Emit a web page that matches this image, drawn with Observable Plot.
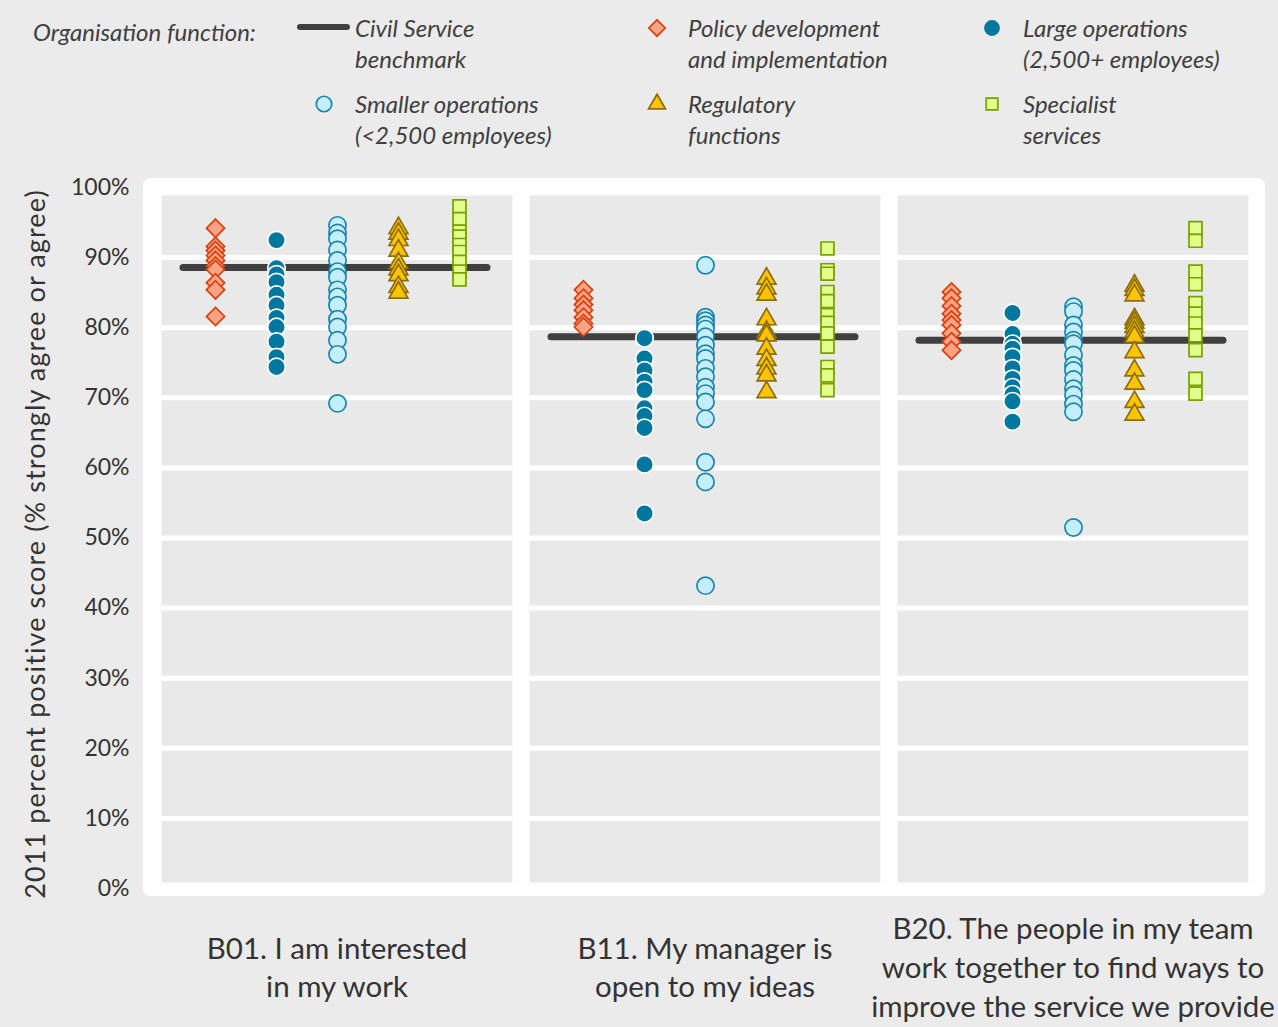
<!DOCTYPE html>
<html><head><meta charset="utf-8">
<script src="https://cdn.jsdelivr.net/npm/d3@7"></script>
<script src="https://cdn.jsdelivr.net/npm/@observablehq/plot@0.6"></script>
<style>
body{margin:0;background:#ebebeb;width:1278px;height:1027px;overflow:hidden;position:relative;font-family:Lato,sans-serif;}
#box{position:absolute;left:143px;top:178px;width:1122px;height:718px;background:#fff;border-radius:7px;}
#chart{position:absolute;left:0;top:0;}
#legend{position:absolute;left:0;top:0;width:1278px;height:160px;font-style:italic;font-size:24px;color:#404040;}
.lt{position:absolute;line-height:31px;white-space:pre;}
.ls{position:absolute;overflow:visible;}
</style></head><body>
<div id="box"></div><div id="chart"></div><div id="legend"></div>
<script>
// ---- data ----
const questions = [
  "B01. I am interested\nin my work",
  "B11. My manager is\nopen to my ideas",
  "B20. The people in my team\nwork together to find ways to\nimprove the service we provide"
];
const groups = [
  "Policy development\nand implementation",
  "Large operations\n(2,500+ employees)",
  "Smaller operations\n(<2,500 employees)",
  "Regulatory\nfunctions",
  "Specialist\nservices"
];
const benchmarkLabel = "Civil Service\nbenchmark";
const legendTitle = "Organisation function:";
const yLabel = "2011 percent positive score (% strongly agree or agree)";
const yTicks = [0, 10, 20, 30, 40, 50, 60, 70, 80, 90, 100];
const benchmark = [88.6, 78.7, 78.2];

const policy = [
  [94.2, 91.6, 91.0, 90.3, 89.6, 88.8, 88.3, 86.4, 85.4, 81.6],
  [85.4, 84.2, 83.3, 82.5, 81.5, 80.6, 80.1],
  [85.1, 84.2, 83.1, 82.0, 81.1, 80.4, 79.2, 78.0, 76.8]
];
const largeOps = [
  [92.5, 88.5, 87.6, 86.5, 84.7, 83.2, 81.4, 80.1, 78.0, 75.8, 74.4],
  [78.5, 75.6, 73.9, 72.3, 71.1, 68.5, 67.4, 65.7, 60.5, 53.5],
  [82.1, 79.1, 77.7, 77.0, 75.8, 74.2, 72.7, 71.5, 70.5, 69.5, 66.6]
];
const smallerOps = [
  [94.6, 93.5, 92.7, 91.1, 89.6, 88.0, 87.2, 85.4, 84.4, 83.2, 81.2, 80.1, 78.2, 76.2, 69.2],
  [88.9, 81.5, 81.0, 80.4, 79.8, 78.7, 77.5, 76.3, 75.6, 74.2, 73.0, 71.5, 70.6, 69.4, 67.0, 60.8, 58.0, 43.2],
  [83.0, 82.3, 80.4, 79.4, 78.2, 77.7, 76.1, 74.6, 73.9, 72.6, 71.3, 70.4, 69.1, 68.0, 51.5]
];
const regulatory = [
  [94.2, 93.4, 92.5, 91.0, 89.2, 88.3, 87.5, 85.8, 85.0],
  [87.0, 85.6, 84.7, 81.2, 79.4, 78.9, 77.0, 75.4, 74.2, 73.2, 70.8],
  [86.0, 85.4, 84.6, 81.2, 80.7, 80.1, 79.4, 78.7, 76.5, 73.9, 72.0, 69.4, 67.6]
];
const specialist = [
  [97.3, 95.5, 93.7, 93.0, 91.8, 90.8, 89.4, 88.0, 86.9],
  [91.3, 88.2, 87.7, 85.1, 83.8, 81.8, 80.7, 79.2, 77.3, 74.4, 73.2, 71.1],
  [94.2, 92.4, 88.0, 86.2, 83.5, 82.0, 80.6, 78.9, 76.8, 72.7, 70.6]
];
const seriesValues = [policy, largeOps, smallerOps, regulatory, specialist];

// ---- styles ----
const styles = [
  {symbol: "diamond2", r: 8.2, fill: "#fca385", stroke: "#d9400f", sw: 1.7},
  {symbol: "circle", r: 8.8, fill: "#00779e", stroke: "#ffffff", sw: 1.7},
  {symbol: "circle", r: 8.6, fill: "#c4eefb", stroke: "#1c84a8", sw: 1.7},
  {symbol: "triangle", r: 7.0, fill: "#ffc400", stroke: "#8c6e00", sw: 1.7},
  {symbol: "square", r: 7.3, fill: "#e2ff8c", stroke: "#78a000", sw: 1.7}
];

const rows = [];
seriesValues.forEach((byQ, gi) => byQ.forEach((vals, qi) => vals.forEach(v => rows.push({q: questions[qi], g: groups[gi], v}))));
const bench = benchmark.map((v, i) => ({q: questions[i], v}));

const chart = Plot.plot({
  width: 1278, height: 1027,
  marginTop: 187, marginBottom: 139, marginLeft: 160, marginRight: 28,
  style: {background: "transparent", fontFamily: "Lato, sans-serif", color: "#333"},
  fx: {domain: questions, paddingInner: 0.046, paddingOuter: 0, axis: null},
  x: {domain: groups, type: "point", padding: 0.85, axis: null},
  y: {domain: [0, 100], axis: null},
  marks: [
    Plot.frame({fill: "#e9e9e9", insetTop: 8, insetBottom: 6}),
    Plot.gridY(yTicks, {stroke: "#ffffff", strokeOpacity: 1, strokeWidth: 5}),
    Plot.ruleY(bench, {fx: "q", y: "v", stroke: "#404040", strokeWidth: 7, strokeLinecap: "round", insetLeft: 22, insetRight: 25}),
    ...groups.map((g, gi) => Plot.dot(rows.filter(d => d.g === g), {
      fx: "q", x: "g", y: "v",
      symbol: styles[gi].symbol, r: styles[gi].r,
      fill: styles[gi].fill, stroke: styles[gi].stroke, strokeWidth: styles[gi].sw
    })),
    Plot.axisY(yTicks, {tickSize: 0, tickPadding: 32, tickFormat: d => d + "%", fontSize: 23, label: null, fill: "#333"}),
    Plot.text([yLabel], {fx: () => questions[0], frameAnchor: "left", textAnchor: "middle", rotate: -90, dx: -125, dy: 6, fontSize: 27, fill: "#333", className: "ylab"}),
    Plot.text(questions, {fx: d => d, text: d => d, frameAnchor: "bottom", dy: 77, lineAnchor: "middle", fontSize: 29.5, lineHeight: 1.32, fill: "#333"})
  ]
});
d3.select(chart).selectAll("text").filter(function() { return this.textContent === yLabel; }).attr("letter-spacing", "1.1px");
document.getElementById("chart").appendChild(chart);

// ---- legend ----
const legend = document.getElementById("legend");
function addText(txt, left, top) {
  const d = document.createElement("div");
  d.className = "lt"; d.style.left = left + "px"; d.style.top = top + "px";
  d.textContent = txt; legend.appendChild(d);
}
function addSymbol(st, cx, cy, scale) {
  const s = d3.create("svg").attr("class", "ls").attr("width", 30).attr("height", 30)
    .style("left", (cx - 15) + "px").style("top", (cy - 15) + "px");
  const sym = {diamond2: d3.symbolDiamond2, circle: d3.symbolCircle, triangle: d3.symbolTriangle, square: d3.symbolSquare}[st.symbol];
  s.append("path").attr("transform", "translate(15,15)")
    .attr("d", d3.symbol(sym, Math.PI * (st.r * scale) ** 2)())
    .attr("fill", st.fill).attr("stroke", st.stroke === "#ffffff" ? "none" : st.stroke).attr("stroke-width", st.sw);
  legend.appendChild(s.node());
}
addText(legendTitle, 33, 16);
const lb = d3.create("svg").attr("class", "ls").attr("width", 70).attr("height", 20).style("left", "290px").style("top", "17px");
lb.append("line").attr("x1", 10).attr("x2", 57).attr("y1", 10).attr("y2", 10).attr("stroke", "#404040").attr("stroke-width", 6).attr("stroke-linecap", "round");
legend.appendChild(lb.node());
addText(benchmarkLabel, 355, 12);
const slots = [[657, 28], [992, 28], [324, 104], [657, 104], [992, 104]];
groups.forEach((g, gi) => {
  const [cx, cy] = slots[gi];
  addSymbol(styles[gi], cx, cy, 0.9);
  addText(g, cx + 31, cy - 16);
});
</script>
</body></html>
